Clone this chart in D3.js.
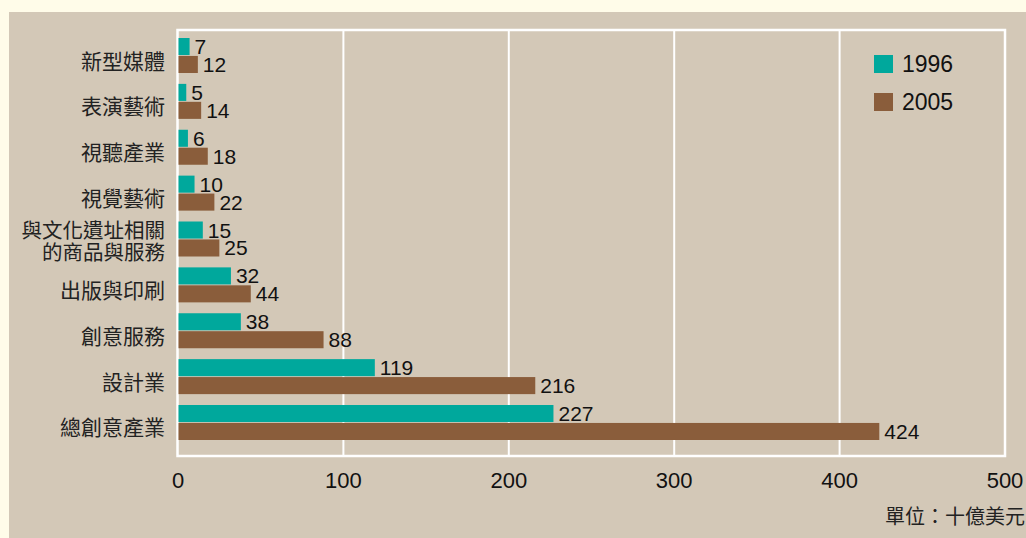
<!DOCTYPE html>
<html>
<head>
<meta charset="utf-8">
<script src="https://cdn.jsdelivr.net/npm/d3@7"></script>
<style>
  html, body { margin: 0; padding: 0; background: #fffce9; }
  svg { display: block; }
</style>
</head>
<body>
<svg width="1026" height="538"></svg>
<script>
const categories = ['新型媒體', '表演藝術', '視聽產業', '視覺藝術', '與文化遺址相關\n的商品與服務', '出版與印刷', '創意服務', '設計業', '總創意產業'];
const years = ['1996', '2005'];
const values1996 = [7, 5, 6, 10, 15, 32, 38, 119, 227];
const values2005 = [12, 14, 18, 22, 25, 44, 88, 216, 424];
const xTicks = [0, 100, 200, 300, 400, 500];
const unitLabel = '單位：十億美元';

const svg = d3.select('svg');

const color = d3.scaleOrdinal().domain(years).range(['#00a89c', '#8a5d3b']);

const cjk = '"Noto Sans CJK TC", "Noto Sans CJK SC", sans-serif';
const latin = '"Liberation Sans", Arial, sans-serif';

// tan panel
svg.append('rect')
  .attr('x', 9).attr('y', 12)
  .attr('width', 1026 - 9).attr('height', 538 - 12)
  .attr('fill', '#d3c8b7');

const x = d3.scaleLinear().domain([0, 500]).range([178, 1005]);

const y = d3.scaleBand()
  .domain(categories)
  .range([38, 440])
  .paddingInner(0.237)
  .paddingOuter(0);

const ySub = d3.scaleBand()
  .domain(years)
  .range([0, y.bandwidth()])
  .paddingInner(0.05);

const rows = categories.map((c, i) => ({
  category: c,
  series: [
    { year: '1996', value: values1996[i] },
    { year: '2005', value: values2005[i] }
  ]
}));

// gridlines
svg.append('g')
  .selectAll('line')
  .data(xTicks.slice(1, -1))
  .enter()
  .append('line')
  .attr('x1', d => x(d)).attr('x2', d => x(d))
  .attr('y1', 30).attr('y2', 456)
  .attr('stroke', '#fff')
  .attr('stroke-width', 2);

// frame
svg.append('rect')
  .attr('x', x(0) - 0.5).attr('y', 30)
  .attr('width', x(500) - x(0) + 0.5).attr('height', 426)
  .attr('fill', 'none')
  .attr('stroke', '#fff')
  .attr('stroke-width', 2.5);

// bars
const group = svg.append('g')
  .selectAll('g')
  .data(rows)
  .enter()
  .append('g')
  .attr('transform', d => `translate(0,${y(d.category)})`);

group.selectAll('rect')
  .data(d => d.series)
  .enter()
  .append('rect')
  .attr('x', x(0) + 0.5)
  .attr('y', d => ySub(d.year))
  .attr('width', d => x(d.value) - x(0) - 0.5)
  .attr('height', ySub.bandwidth())
  .attr('fill', d => color(d.year));

group.selectAll('text')
  .data(d => d.series)
  .enter()
  .append('text')
  .attr('x', d => x(d.value) + 5)
  .attr('y', d => ySub(d.year) + ySub.bandwidth() - 1)
  .attr('font-family', latin)
  .attr('font-size', 21)
  .attr('fill', '#111')
  .text(d => d.value);

// category labels
const catLabels = svg.append('g')
  .selectAll('text')
  .data(categories)
  .enter()
  .append('text')
  .attr('x', 165)
  .attr('text-anchor', 'end')
  .attr('font-family', cjk)
  .attr('font-size', 21)
  .attr('fill', '#222');

catLabels.each(function (d) {
  const lines = d.split('\n');
  const cy = y(d) + y.bandwidth() / 2;
  const t = d3.select(this);
  if (lines.length === 1) {
    t.attr('y', cy + 4).attr('dominant-baseline', 'central').text(d);
  } else {
    t.attr('font-size', 20.5);
    lines.forEach((line, j) => {
      t.append('tspan')
        .attr('x', 165)
        .attr('y', cy - 10.5 + j * 22)
        .attr('dominant-baseline', 'central')
        .text(line);
    });
  }
});

// x axis labels
svg.append('g')
  .selectAll('text')
  .data(xTicks)
  .enter()
  .append('text')
  .attr('x', d => x(d))
  .attr('y', 488)
  .attr('text-anchor', 'middle')
  .attr('font-family', latin)
  .attr('font-size', 22)
  .attr('fill', '#111')
  .text(d => d);

// legend
const legend = svg.append('g')
  .selectAll('g')
  .data(years)
  .enter()
  .append('g')
  .attr('transform', (d, i) => `translate(874,${55 + i * 38})`);

legend.append('rect')
  .attr('width', 19).attr('height', 18)
  .attr('fill', d => color(d));

legend.append('text')
  .attr('x', 28).attr('y', 17)
  .attr('font-family', latin)
  .attr('font-size', 23)
  .attr('fill', '#111')
  .text(d => d);

// unit
svg.append('text')
  .attr('x', 1025).attr('y', 524)
  .attr('text-anchor', 'end')
  .attr('font-family', cjk)
  .attr('font-size', 20)
  .attr('fill', '#222')
  .text(unitLabel);
</script>
</body>
</html>
